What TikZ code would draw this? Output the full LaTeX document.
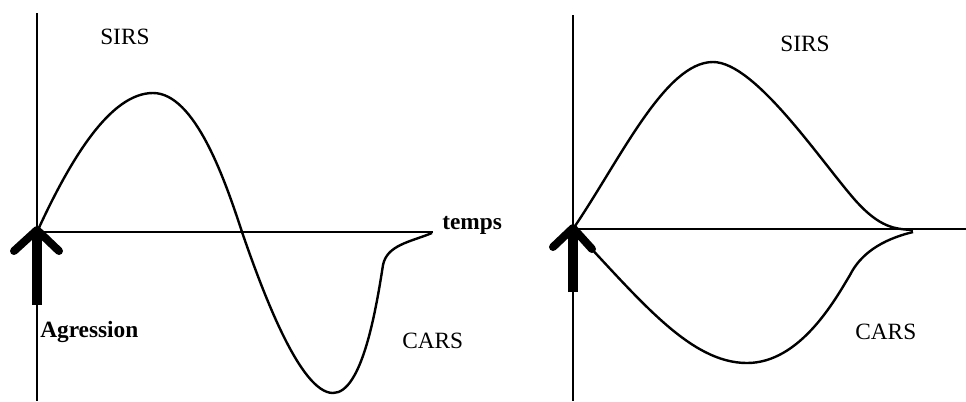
\documentclass[tikz,border=0pt]{standalone}
\usepackage{fontspec}
\setmainfont{Liberation Serif}
\begin{document}
\begin{tikzpicture}[x=0.75pt,y=-0.75pt,
  axisline/.style={line width=1.8pt},
  curveline/.style={line width=1.8pt, line join=round},
  shaft/.style={line width=7.5pt},
  chevron/.style={line width=6pt, line cap=round, line join=round},
  lbl/.style={inner sep=0pt, anchor=base west, font=\fontsize{17.5}{20}\selectfont},
  blbl/.style={lbl, font=\fontsize{17.5}{20}\selectfont\bfseries}]
\useasboundingbox[fill=white] (0,0) rectangle (966,401);
% ---- left panel ----
\draw[axisline] (37,13) -- (37,401);
\draw[axisline] (37,232) -- (433,232);
\draw[curveline] (37,232) .. controls (70,160) and (110,93) .. (153,93)
  .. controls (195,93) and (225,180) .. (242,232)
  .. controls (262,290) and (300,393) .. (333,393)
  .. controls (362,393) and (376,310) .. (383,265)
  .. controls (387,245) and (410,242) .. (432,233);
\draw[shaft] (37,305) -- (37,232);
\draw[chevron] (14,251) -- (37,230) -- (59,251);
\node[lbl]  (sirsL) at (100,44) {SIRS};
\node[blbl] (temps) at (442,229) {temps};
\node[blbl] (agr)   at (40,337) {Agression};
\node[lbl]  (carsL) at (402,348) {CARS};
% ---- right panel ----
\draw[axisline] (573,15) -- (573,401);
\draw[axisline] (573,229) -- (966,229);
\draw[curveline] (573,229) .. controls (620,160) and (665,62) .. (713,62)
  .. controls (755,62) and (820,160) .. (855,200)
  .. controls (880,228) and (895,229) .. (913,230);
\draw[curveline] (573,229) .. controls (640,300) and (690,363) .. (747,363)
  .. controls (800,363) and (835,300) .. (850,275)
  .. controls (860,255) and (880,240) .. (913,232);
\draw[shaft] (573,292) -- (573,229);
\draw[chevron] (553,247) -- (573,228) -- (592,249);
\node[lbl] (sirsR) at (780,51) {SIRS};
\node[lbl] (carsR) at (855,339) {CARS};
\end{tikzpicture}
\end{document}
